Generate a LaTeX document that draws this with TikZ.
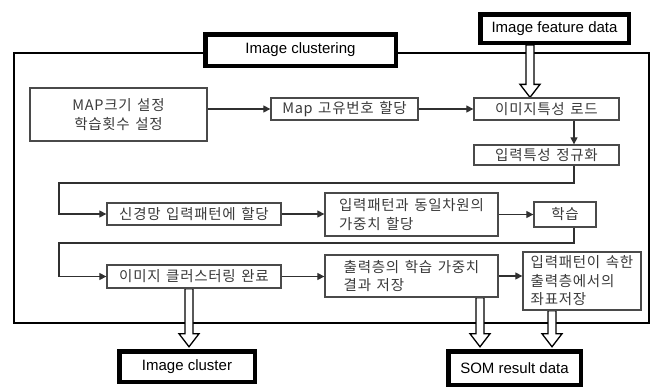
\documentclass[tikz,border=0pt]{standalone}
\usepackage{fontspec}
\setmainfont{Liberation Sans}
\newfontfamily\kr{Noto Sans CJK KR}[LetterSpace=5,WordSpace=1.4]
\usetikzlibrary{arrows.meta,calc}
\pgfdeclarelayer{bg}
\pgfsetlayers{bg,main}
\definecolor{boxgray}{HTML}{4A4A4A}
\definecolor{linegray}{HTML}{303030}
\definecolor{txt}{HTML}{3A3A3A}
\tikzset{
  box/.style={draw=boxgray, line width=1.3pt, fill=white, inner sep=0pt, text=txt, align=center,
    font=\kr\fontsize{14.5}{18.5}\selectfont},
  lbox/.style={box, align=left},
  heavybox/.style={draw=black, line width=4.5pt, fill=white, inner sep=0pt, text=black,
    font=\fontsize{15}{18}\selectfont},
  arr/.style={draw=linegray, line width=1.2pt, -{Triangle[length=7pt,width=7pt]}},
  hollow/.style={draw=black, line width=1.3pt, fill=white, line join=miter},
  frame/.style={draw=black, line width=2pt}
}
\newcommand\hollowarrow[2]{%
  \draw[hollow] let \p1=(#1), \p2=(#2) in
    (\x1-4pt,\y1) -- (\x1-4pt,\y2+13pt) -- (\x1-10pt,\y2+13pt) -- (\x1,\y2)
    -- (\x1+10pt,\y2+13pt) -- (\x1+4pt,\y2+13pt) -- (\x1+4pt,\y1) -- cycle;}
\begin{document}
\begin{tikzpicture}[x=1pt,y=-1pt]
\useasboundingbox (0,0) rectangle (656,388);

% heavy boxes
\node[heavybox, minimum width=190.5pt, minimum height=31.5pt] (ic) at (300.5,50) {Image clustering};
\node[heavybox, minimum width=148.5pt, minimum height=28.5pt] (ifd) at (554.5,28.5) {Image feature data};
\node[heavybox, minimum width=135.5pt, minimum height=30.5pt] (icl) at (187,366.5) {Image cluster};
\node[heavybox, minimum width=132.5pt, minimum height=33.5pt] (som) at (514.5,368) {SOM result data};

% process boxes
\node[box, minimum width=177pt, minimum height=53pt] (map) at (118.5,114.5) {MAP크기 설정\\학습횟수 설정};
\node[box, minimum width=147pt, minimum height=22pt] (mapid) at (344.5,109) {Map 고유번호 할당};
\node[box, minimum width=145pt, minimum height=22pt] (load) at (546.5,109) {이미지특성 로드};
\node[box, minimum width=145pt, minimum height=20pt] (norm) at (546.5,155) {입력특성 정규화};
\node[box, minimum width=174pt, minimum height=22pt] (nn) at (194,214) {신경망 입력패턴에 할당};
\node[lbox, minimum width=173pt, minimum height=43pt] (wt) at (411.5,214.5) {입력패턴과 동일차원의\\가중치 할당};
\node[box, minimum width=62pt, minimum height=25pt] (learn) at (565,214.5) {학습};
\node[box, minimum width=174pt, minimum height=23pt] (done) at (194,276.5) {이미지 클러스터링 완료};
\node[lbox, minimum width=173pt, minimum height=42pt] (save) at (411.5,276) {출력층의 학습 가중치\\결과 저장};
\node[lbox, minimum width=118pt, minimum height=58pt] (coord) at (582,281) {입력패턴이 속한\\출력층에서의\\좌표저장};

% frame and hollow arrows behind
\begin{pgfonlayer}{bg}
\draw[frame] (14,53) rectangle (649,323);
\hollowarrow{[xshift=-24.5pt]ifd.south}{load.north}
\hollowarrow{[xshift=-5pt]done.south}{[yshift=2.25pt]icl.north}
\hollowarrow{[xshift=68.5pt]save.south}{[yshift=2.25pt]som.north}
\hollowarrow{[xshift=-30pt]coord.south}{[yshift=2.25pt]som.north}
\end{pgfonlayer}

% connectors
\coordinate (r1) at (59,183);
\coordinate (r2) at (59,243);
\draw[arr] (map.east |- mapid.west) -- (mapid.west);
\draw[arr] (mapid.east) -- (load.west);
\draw[arr] ([xshift=27.5pt]load.south) -- ([xshift=27.5pt]norm.north);
\draw[arr] ([xshift=27.5pt]norm.south) |- (r1) |- (nn.west);
\draw[arr] (nn.east) -- (nn.east -| wt.west);
\draw[arr] (wt.east) -- (learn.west);
\draw[arr] ([xshift=9pt]learn.south) |- (r2) |- (done.west);
\draw[arr] (done.east) -- (done.east -| save.west);
\draw[arr] (save.east) -- (save.east -| coord.west);
\end{tikzpicture}
\end{document}
